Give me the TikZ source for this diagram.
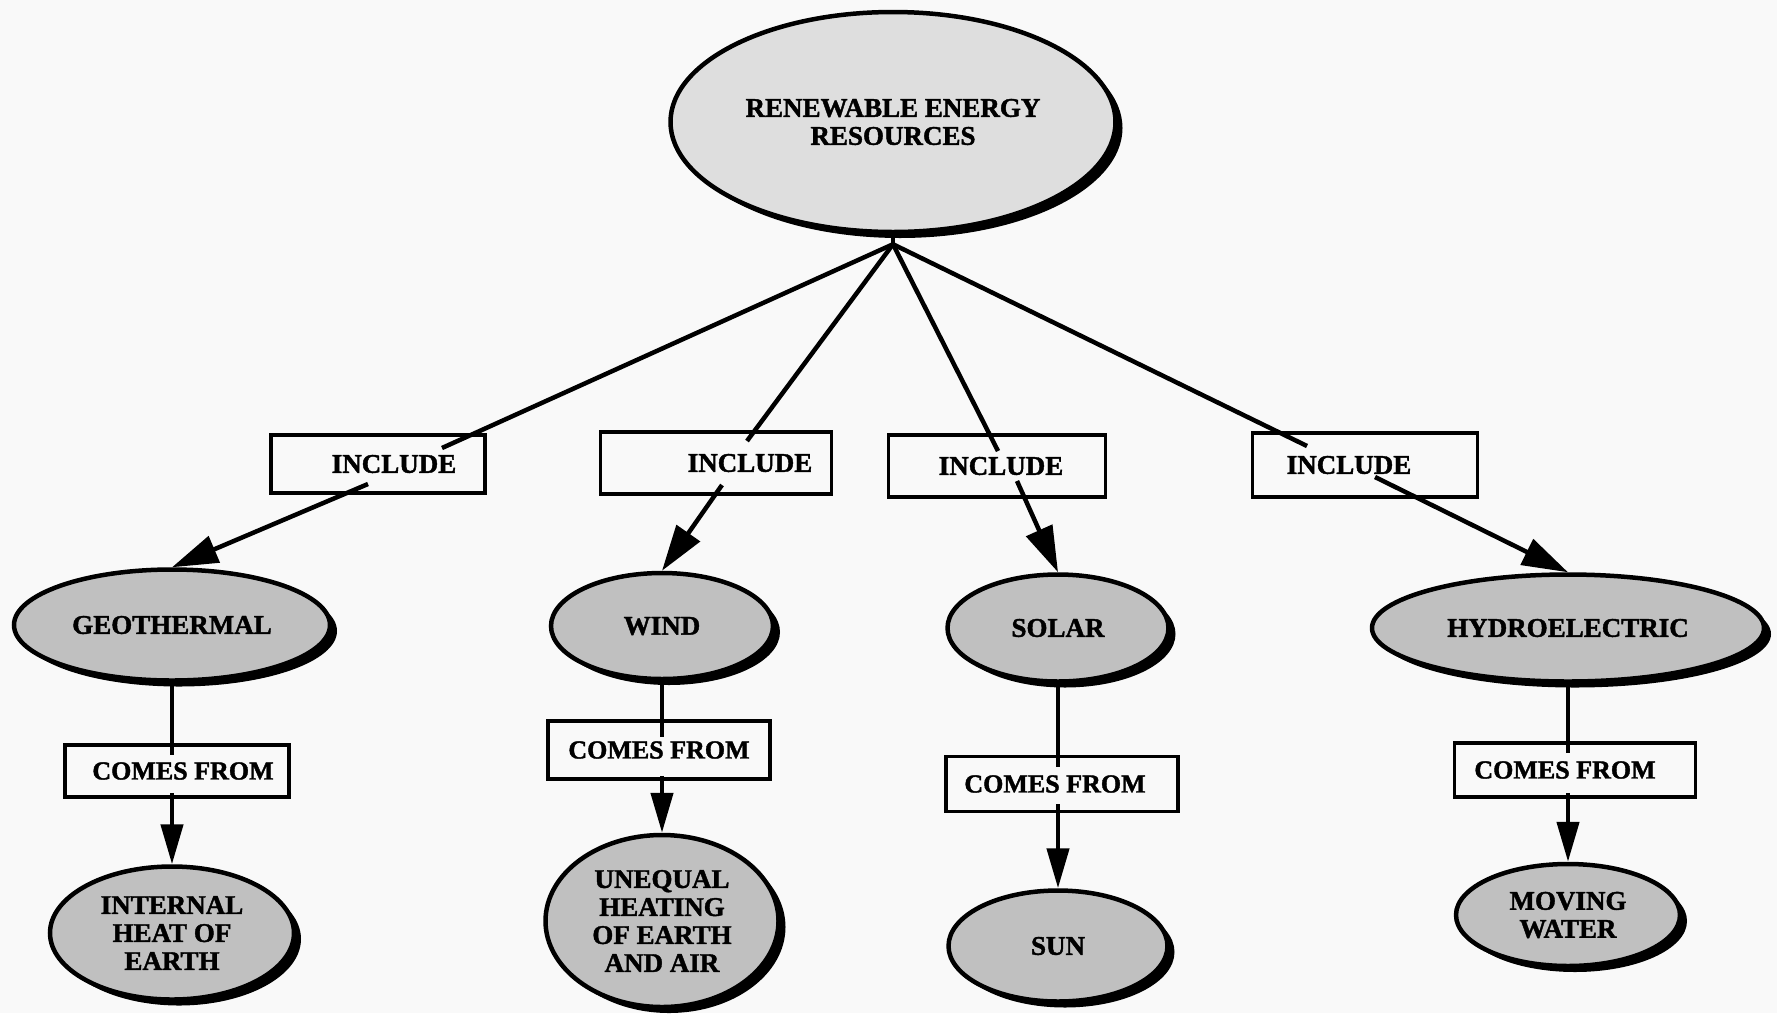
\documentclass[tikz,border=0pt]{standalone}
\usepackage{fontspec}
\setmainfont{Liberation Serif}[BoldFeatures={FakeBold=1.5}]
\usetikzlibrary{shapes.geometric,arrows.meta,shadows,calc}
\definecolor{bgc}{RGB}{249,249,249}
\definecolor{stip}{RGB}{192,192,192}
\definecolor{stiplight}{RGB}{222,222,222}
\begin{document}
\begin{tikzpicture}[x=1pt,y=-1pt,
  every node/.style={font=\fontsize{27}{28}\selectfont\bfseries, inner sep=0pt},
  oval/.style={ellipse, draw=black, line width=4.5pt, fill=stip, align=center,
     drop shadow={shadow xshift=7pt, shadow yshift=-6pt, fill=black, opacity=1}},
  box/.style={rectangle, draw=black, line width=3.5pt, fill=bgc},
  cftext/.style={font=\fontsize{26}{28}\selectfont\bfseries},
  link/.style={line width=4.5pt},
  arr/.style={line width=4.5pt, -{Triangle[length=40pt,width=22pt]}},
  arrd/.style={line width=4.5pt, -{Triangle[length=46pt,width=28pt]}},
]
\fill[bgc] (0,0) rectangle (1777,1013);
\useasboundingbox (0,0) rectangle (1777,1013);

% top
\node[oval, fill=stiplight, minimum width=445pt, minimum height=220pt] (top) at (893,122) {RENEWABLE ENERGY\\RESOURCES};
\coordinate (apex) at ($(top.south)+(0,10)$);

% include boxes
\node[box, minimum width=214pt, minimum height=58pt] (inc1) at (378,464) {\hspace*{32pt}INCLUDE};
\node[box, minimum width=231pt, minimum height=62pt] (inc2) at (716,463) {\hspace*{68pt}INCLUDE};
\node[box, minimum width=217pt, minimum height=62pt] (inc3) at (997,466) {\hspace*{8pt}INCLUDE};
\node[box, minimum width=225pt, minimum height=64pt] (inc4) at (1365,465) {INCLUDE\hspace*{32pt}};

% level 2
\node[oval, minimum width=316pt, minimum height=111pt] (geo) at (172,625) {GEOTHERMAL};
\node[oval, minimum width=222pt, minimum height=106pt] (wind) at (662,626) {WIND};
\node[oval, minimum width=221pt, minimum height=107pt] (solar) at (1058,628) {SOLAR};
\node[oval, minimum width=392pt, minimum height=107pt] (hydro) at (1568,628) {HYDROELECTRIC};

% comes from boxes
\node[box, cftext, minimum width=224pt, minimum height=52pt] (cf1) at (177,771) {\hspace*{12pt}COMES FROM};
\node[box, cftext, minimum width=222pt, minimum height=58pt] (cf2) at (659,750) {COMES FROM};
\node[box, cftext, minimum width=232pt, minimum height=55pt] (cf3) at (1062,784) {COMES FROM\hspace*{14pt}};
\node[box, cftext, minimum width=241pt, minimum height=54pt] (cf4) at (1575,770) {COMES FROM\hspace*{20pt}};

% level 3
\node[oval, minimum width=244pt, minimum height=133pt] (ih) at (172,933) {INTERNAL\\HEAT OF\\EARTH};
\node[oval, minimum width=233pt, minimum height=172pt] (ue) at (662,921) {UNEQUAL\\HEATING\\OF EARTH\\AND AIR};
\node[oval, minimum width=219pt, minimum height=111pt] (sun) at (1058,946) {SUN};
\node[oval, minimum width=224pt, minimum height=102pt] (mw) at (1568,915) {MOVING\\WATER};

% connectors from top
\coordinate (e1) at ($(inc1.center)+(64,-16)$);
\coordinate (e2) at ($(inc2.center)+(31,-22)$);
\coordinate (e3) at ($(inc3.center)+(1,-15)$);
\coordinate (e4) at ($(inc4.center)+(-58,-19)$);
\draw[link] (top.south) -- (apex);
\draw[link] (apex) -- (e1);
\draw[link] (apex) -- (e2);
\draw[link] (apex) -- (e3);
\draw[link] (apex) -- (e4);

% include -> energy type
\coordinate (s1) at ($(inc1.center)+(-10,20)$);
\coordinate (s2) at ($(inc2.center)+(6,22)$);
\coordinate (s3) at ($(inc3.center)+(20,15)$);
\coordinate (s4) at ($(inc4.center)+(10,12)$);
\draw[arrd] (s1) -- (geo.north);
\draw[arrd] (s2) -- (wind.north);
\draw[arrd] (s3) -- (solar.north);
\draw[arrd] (s4) -- (hydro.north);

% energy type -> comes from
\coordinate (c1in) at ($(cf1.north)+(0,12)$);
\coordinate (c2in) at ($(cf2.north)+(0,18)$);
\coordinate (c3in) at ($(cf3.north)+(0,12)$);
\coordinate (c4in) at ($(cf4.north)+(0,12)$);
\draw[link] (geo.south) -- (geo.south |- c1in);
\draw[link] (wind.south) -- (wind.south |- c2in);
\draw[link] (solar.south) -- (solar.south |- c3in);
\draw[link] (hydro.south) -- (hydro.south |- c4in);

% comes from -> source
\coordinate (c1out) at ($(cf1.south)+(0,-6)$);
\coordinate (c2out) at ($(cf2.south)+(0,-5)$);
\coordinate (c3out) at ($(cf3.south)+(0,-9)$);
\coordinate (c4out) at ($(cf4.south)+(0,-6)$);
\draw[arr] (ih.north |- c1out) -- (ih.north);
\draw[arr] (ue.north |- c2out) -- (ue.north);
\draw[arr] (sun.north |- c3out) -- (sun.north);
\draw[arr] (mw.north |- c4out) -- (mw.north);
\end{tikzpicture}
\end{document}
